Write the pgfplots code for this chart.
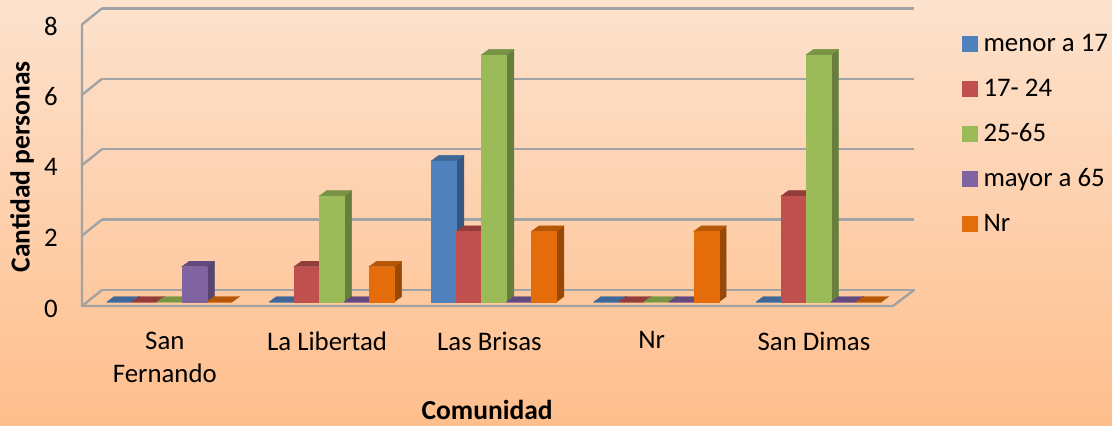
\documentclass[border=0pt]{standalone}
\usepackage{fontspec}
\setmainfont{Carlito}
\usepackage{pgfplots}
\usepackage{pgfplotstable}
\pgfplotsset{compat=1.18}
\definecolor{BgTop}{HTML}{FDE2CD}
\definecolor{BgMid}{HTML}{FFD0AC}
\definecolor{BgBot}{HTML}{FEBE8C}
\definecolor{Wall}{HTML}{A0A3A5}
\definecolor{BlueF}{HTML}{4F81BD}\definecolor{BlueT}{HTML}{3F6797}\definecolor{BlueS}{HTML}{355782}
\definecolor{RedF}{HTML}{C0504D}\definecolor{RedT}{HTML}{933D3B}\definecolor{RedS}{HTML}{843735}
\definecolor{GreenF}{HTML}{9BBB59}\definecolor{GreenT}{HTML}{7A9446}\definecolor{GreenS}{HTML}{677E3C}
\definecolor{PurpleF}{HTML}{8064A2}\definecolor{PurpleT}{HTML}{64497F}\definecolor{PurpleS}{HTML}{574570}
\definecolor{OrangeF}{HTML}{E46C0A}\definecolor{OrangeT}{HTML}{B65708}\definecolor{OrangeS}{HTML}{984807}
\newcommand{\lab}{\fontsize{26.8}{33}\selectfont}
\newcommand{\blab}{\fontsize{27.5}{33}\selectfont\bfseries}
\newcommand{\yu}{35.3pt}
\pgfdeclareplotmark{nil}{}
\pgfplotstableread{
x  menor mid  adult mayor nr
0  0     0    0     1     0
1  0     1    3     0     1
2  4     2    7     0     2
3  0     0    0     0     2
4  0     3    7     0     0
}\comunidad
% one 3d bar per point: front, top, side colours and shift from the group centre
\pgfplotsset{
  box3d/.style n args={5}{
    scatter,only marks,mark=nil,scatter src=y,
    visualization depends on={\thisrow{#5}\as\val},
    scatter/@pre marker code/.code={
      \fill[#3] ({#4+12.5pt},0pt) -- ++(7.5pt,5.5pt) -- ++(0pt,{-\val*\yu}) -- ++(-7.5pt,-5.5pt) -- cycle;
      \fill[#2] ({#4-12.5pt},0pt) -- ++(7.5pt,5.5pt) -- ++(25pt,0pt) -- ++(-7.5pt,-5.5pt) -- cycle;
      \fill[#1] ({#4-12.5pt},0pt) rectangle ({#4+12.5pt},{-\val*\yu});
    },
    scatter/@post marker code/.code={},
    legend image code/.code={\fill[#1] (0pt,-7.5pt) rectangle (15pt,7.5pt);\path (19pt,0pt);},
  },
}
\begin{document}
\begin{tikzpicture}[x=1pt,y=1pt]
\shade[top color=BgTop,middle color=BgMid,bottom color=BgBot] (0,0) rectangle (1112,426);
\useasboundingbox (0,0) rectangle (1112,426);

% back wall with the grid and the floor
\begin{axis}[
  at={(102pt,136pt)},anchor=south west,scale only axis,
  x=812pt,y=35.2pt,xmin=0,xmax=1,ymin=0,ymax=8,clip=false,
  axis line style={draw=none},major tick length=0pt,
  xtick=\empty,ytick={0,2,4,6,8},yticklabels={},
  ymajorgrids,grid style={draw=Wall,line width=2.4pt},
]
\pgfplotsinvokeforeach{0,2,4,6,8}{
  \draw[Wall,line width=2.4pt] (axis cs:0,#1) -- ++(-20pt,-16pt);
}
\draw[Wall,line width=2.4pt,line cap=round] ([shift={(-20pt,-16pt)}]axis cs:0,8) -- ([shift={(-20pt,-16pt)}]axis cs:0,0)
  -- ([shift={(-21pt,-16pt)}]axis cs:1,0) -- (axis cs:1,0);
\end{axis}

\begin{axis}[
  at={(82pt,124pt)},anchor=south west,scale only axis,
  x=162.3pt,y=\yu,xmin=-0.538,xmax=4.459,ymin=0,ymax=8,clip=false,
  axis line style={draw=none},major tick length=0pt,
  xtick={0,1,2,3,4},
  xticklabels={San\\Fernando,La Libertad,Las Brisas,Nr,San Dimas},
  ytick={0,2,4,6,8},
  /pgf/number format/assume math mode=true,
  tick label style={font=\lab},
  xticklabel style={align=center,anchor=north,inner sep=0pt,yshift=-29.5pt,xshift=-4.5pt},
  yticklabel style={anchor=east,inner sep=0pt,xshift=-24pt,yshift=-6.5pt},
  xlabel={Comunidad},ylabel={Cantidad personas},
  label style={font=\blab,inner sep=0pt},
  xlabel style={at={(rel axis cs:0.4995,0)},anchor=center,yshift=-107.5pt},
  ylabel style={at={(rel axis cs:0,0.479)},anchor=center,yshift=60pt},
  legend cell align=left,
  legend style={at={(rel axis cs:1.085,0.955)},anchor=north west,draw=none,fill=none,
    font=\lab,inner sep=0pt,row sep=21.7pt,
    /tikz/every even column/.style={column sep=8pt}},
]
\addplot[box3d={BlueF}{BlueT}{BlueS}{-50pt}{menor}] table[x=x,y=menor] {\comunidad};
\addplot[box3d={RedF}{RedT}{RedS}{-25pt}{mid}] table[x=x,y=mid] {\comunidad};
\addplot[box3d={GreenF}{GreenT}{GreenS}{0pt}{adult}] table[x=x,y=adult] {\comunidad};
\addplot[box3d={PurpleF}{PurpleT}{PurpleS}{25pt}{mayor}] table[x=x,y=mayor] {\comunidad};
\addplot[box3d={OrangeF}{OrangeT}{OrangeS}{50pt}{nr}] table[x=x,y=nr] {\comunidad};
\legend{menor a 17,17- 24,25-65,mayor a 65,Nr}
\end{axis}
\end{tikzpicture}
\end{document}
